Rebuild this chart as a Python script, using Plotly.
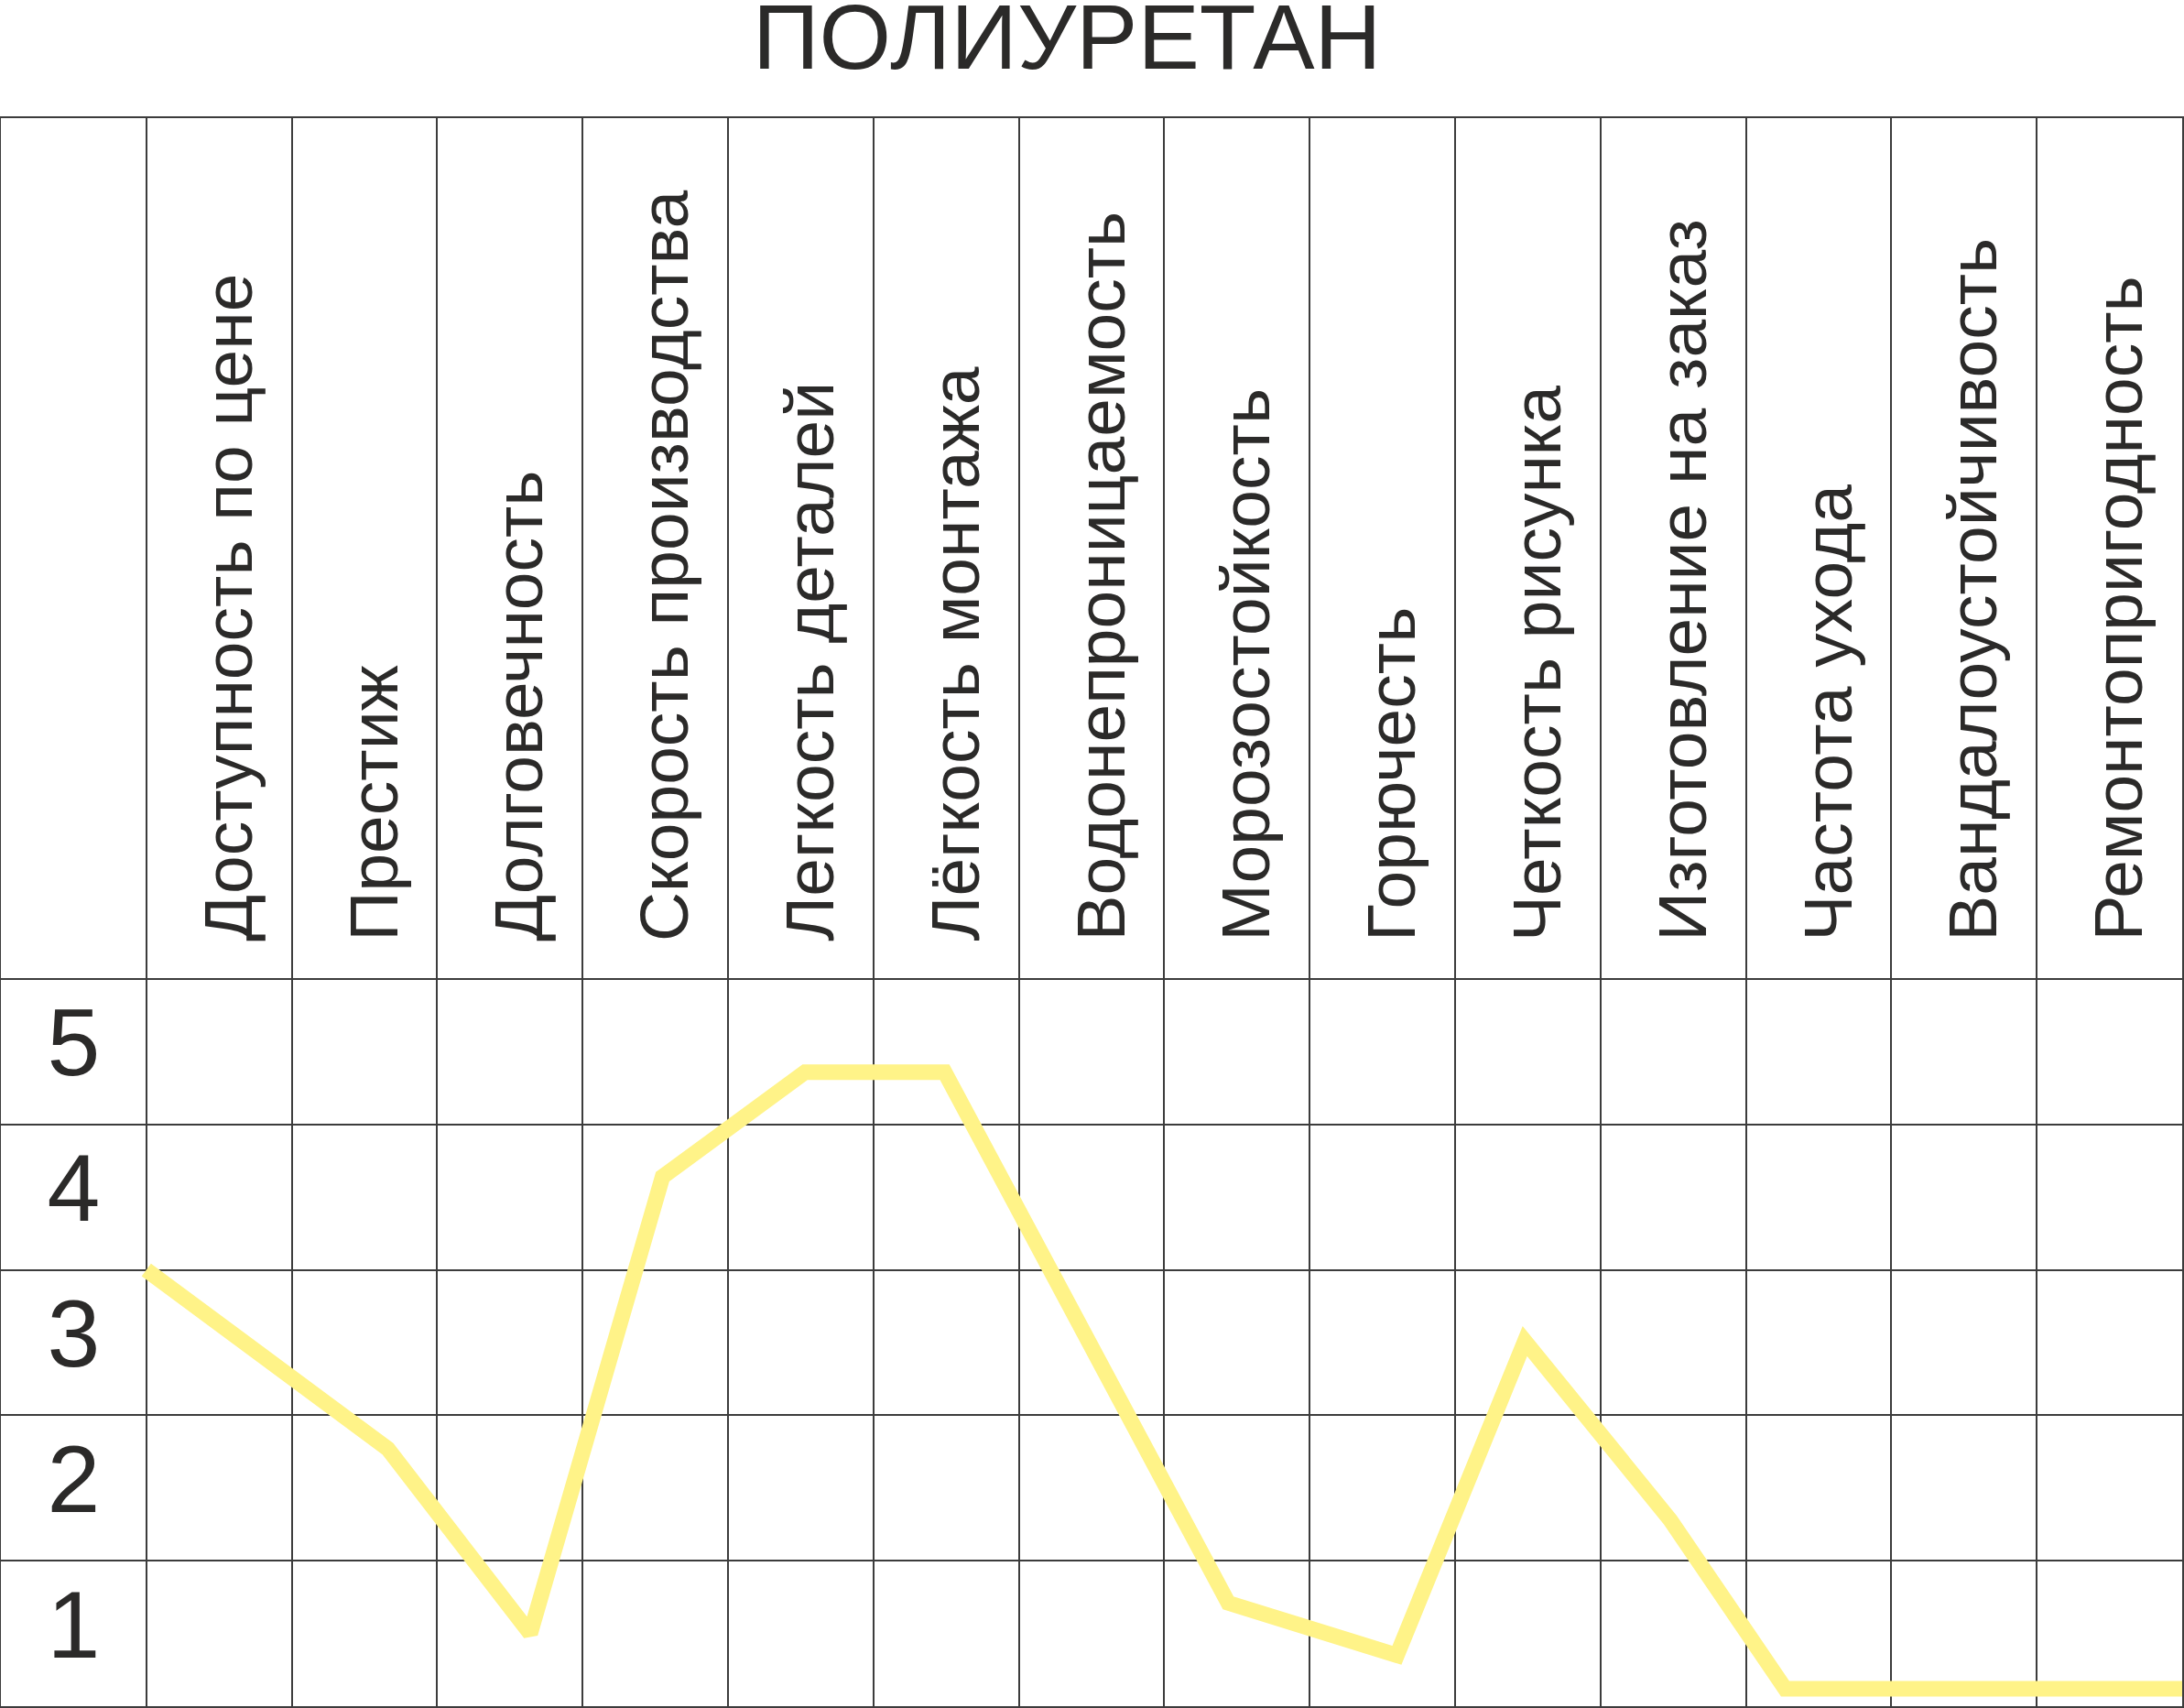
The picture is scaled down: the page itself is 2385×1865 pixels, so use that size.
import plotly.graph_objects as go

# ---------------- data ----------------
title_text = "ПОЛИУРЕТАН"

categories = [
    "Доступность по цене",
    "Престиж",
    "Долговечность",
    "Скорость производства",
    "Легкость деталей",
    "Лёгкость монтажа",
    "Водонепроницаемость",
    "Морозостойкость",
    "Горючесть",
    "Четкость рисунка",
    "Изготовление на заказ",
    "Частота ухода",
    "Вандалоустойчивость",
    "Ремонтопригодность",
]

score_levels = [1, 2, 3, 4, 5]
score_labels = ["1", "2", "3", "4", "5"]

# profile line (x in column units, column i centred on i)
profile_x = [-0.5, 1.16, 2.14, 3.05, 4.03, 4.99, 6.94, 8.10, 8.98, 9.98, 10.77, 13.5]
profile_y = [3.5, 2.27, 1.0, 4.14, 4.86, 4.86, 1.21, 0.85, 3.01, 1.78, 0.62, 0.62]

# ---------------- style ----------------
W, H = 2385, 1865
M_L, M_R, M_T, M_B = 1, 2, 129, 2
TEXT = "#2B2A29"
GRID = "#3C3C3C"
LINE = "#FFF388"
FONT = "Liberation Sans, Arial, sans-serif"

n = len(categories)
x_min, x_max = -1.5, n - 0.5
plot_w = W - M_L - M_R
plot_h = H - M_T - M_B
unit = 158.8
y_min = 0.5
y_max = y_min + plot_h / unit
header_base = 5.5 + (1863 - 1030 - 5 * unit) / unit  # bottom of rotated labels

fig = go.Figure()

# score labels in the first column
fig.add_trace(go.Scatter(
    x=[-1] * len(score_levels), y=score_levels, text=score_labels,
    mode="text", textposition="middle center",
    textfont=dict(family=FONT, size=104, color=TEXT),
    hoverinfo="skip", showlegend=False,
))

# profile line
fig.add_trace(go.Scatter(
    x=profile_x, y=profile_y, mode="lines",
    line=dict(color=LINE, width=17),
    hoverinfo="skip", showlegend=False,
))

# rotated category headers
for i, name in enumerate(categories):
    fig.add_annotation(
        x=i, y=header_base, xref="x", yref="y",
        text=name, textangle=-90, showarrow=False,
        xanchor="center", yanchor="bottom", xshift=9,
        font=dict(family=FONT, size=75, color=TEXT),
    )

# title
fig.add_annotation(
    x=(1165 - M_L) / plot_w, y=(H - M_B - 40) / plot_h,
    xref="paper", yref="paper", text=title_text, showarrow=False,
    xanchor="center", yanchor="middle",
    font=dict(family=FONT, size=101, color=TEXT),
)

fig.update_xaxes(
    range=[x_min, x_max],
    tickmode="array", tickvals=[i - 0.5 for i in range(n)],
    showticklabels=False, ticks="",
    showgrid=True, gridcolor=GRID, gridwidth=1.5,
    zeroline=False,
    showline=True, mirror=True, linecolor=GRID, linewidth=1.5,
    fixedrange=True,
)
fig.update_yaxes(
    range=[y_min, y_max],
    tickmode="array", tickvals=[v + 0.5 for v in score_levels],
    showticklabels=False, ticks="",
    showgrid=True, gridcolor=GRID, gridwidth=1.5,
    zeroline=False,
    showline=True, mirror=True, linecolor=GRID, linewidth=1.5,
    fixedrange=True,
)

fig.update_layout(
    width=W, height=H,
    margin=dict(l=M_L, r=M_R, t=M_T, b=M_B, pad=0),
    paper_bgcolor="white", plot_bgcolor="white",
    showlegend=False,
)

# remove the browser's default page margin so the figure fills the window exactly
fig.write_html(
    "out.html",
    config={"displayModeBar": False},
    post_script="document.body.style.margin='0';document.body.style.overflow='hidden';",
)
